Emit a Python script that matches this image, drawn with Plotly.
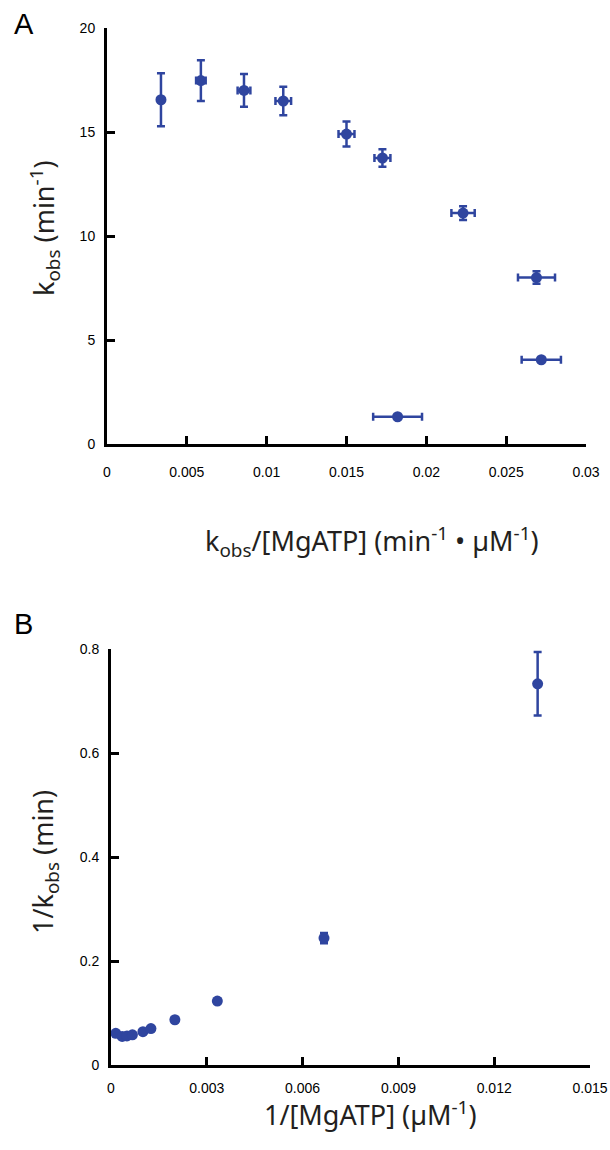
import plotly.graph_objects as go

# Panel A data: kobs vs kobs/[MgATP]
a_x = [0.00338, 0.00588, 0.00858, 0.01104, 0.0150, 0.01725, 0.0223, 0.0269, 0.0272, 0.0182]
a_y = [16.55, 17.47, 17.0, 16.49, 14.9, 13.75, 11.1, 8.0, 4.05, 1.31]
a_yerr = [1.27, 0.98, 0.79, 0.69, 0.6, 0.42, 0.33, 0.3, 0.1, 0.05]
a_xerr = [0.0001, 0.0003, 0.0004, 0.00049, 0.0005, 0.0005, 0.00073, 0.00116, 0.00123, 0.00153]

# Panel B data: 1/kobs vs 1/[MgATP]
b_x = [0.00015, 0.00035, 0.0005, 0.00067, 0.001, 0.00125, 0.002, 0.00333, 0.00667, 0.01336]
b_y = [0.061, 0.055, 0.056, 0.058, 0.064, 0.070, 0.087, 0.123, 0.244, 0.733]
b_yerr = [0.0, 0.0, 0.0, 0.0, 0.0, 0.0, 0.002, 0.004, 0.01, 0.061]

a_xticks = [0, 0.005, 0.01, 0.015, 0.02, 0.025, 0.03]
a_xlabels = ["0", "0.005", "0.01", "0.015", "0.02", "0.025", "0.03"]
a_yticks = [0, 5, 10, 15, 20]
b_xticks = [0, 0.003, 0.006, 0.009, 0.012, 0.015]
b_xlabels = ["0", "0.003", "0.006", "0.009", "0.012", "0.015"]
b_yticks = [0, 0.2, 0.4, 0.6, 0.8]
b_ylabels = ["0", "0.2", "0.4", "0.6", "0.8"]

BLUE = "#2F459F"
TICKFONT = dict(family="Liberation Sans, Arial, sans-serif", size=14, color="black")
TITLEFONT = dict(family="Noto Sans, sans-serif", size=27, color="#231F20")

fig = go.Figure()
fig.add_trace(go.Scatter(
    x=a_x, y=a_y, mode="markers",
    marker=dict(color=BLUE, size=11),
    error_y=dict(type="data", array=a_yerr, color=BLUE, thickness=2.5, width=4),
    error_x=dict(type="data", array=a_xerr, color=BLUE, thickness=2.5, width=4),
    xaxis="x", yaxis="y", showlegend=False, cliponaxis=False,
))
fig.add_trace(go.Scatter(
    x=b_x, y=b_y, mode="markers",
    marker=dict(color=BLUE, size=11),
    error_y=dict(type="data", array=b_yerr, color=BLUE, thickness=2.5, width=4),
    xaxis="x2", yaxis="y2", showlegend=False, cliponaxis=False,
))

W, H = 610, 1150
def fx(p):
    return p / W
def fy(p):
    return (H - p) / H

axis_common = dict(
    showline=True, linecolor="black", linewidth=3,
    ticks="inside", ticklen=8, tickwidth=2.5, tickcolor="black",
    showgrid=False, zeroline=False, tickfont=TICKFONT,
    automargin=False,
)

fig.update_layout(
    width=W, height=H,
    margin=dict(l=0, r=0, t=0, b=0, autoexpand=False),
    paper_bgcolor="white", plot_bgcolor="white",
    xaxis=dict(domain=[fx(107), fx(586)], range=[0, 0.03], anchor="y",
               tickvals=a_xticks, ticktext=a_xlabels, ticklabelstandoff=13, **axis_common),
    yaxis=dict(domain=[fy(444), fy(28)], range=[0, 20], anchor="x",
               tickvals=a_yticks, ticklabelstandoff=6, **axis_common),
    xaxis2=dict(domain=[fx(111), fx(590)], range=[0, 0.015], anchor="y2",
                tickvals=b_xticks, ticktext=b_xlabels, ticklabelstandoff=8, **axis_common),
    yaxis2=dict(domain=[fy(1065), fy(649)], range=[0, 0.8], anchor="x2",
                tickvals=b_yticks, ticktext=b_ylabels, ticklabelstandoff=6, **axis_common),
)

annotations = [
    dict(text="A", x=fx(12), y=fy(24), xref="paper", yref="paper",
         xanchor="left", yanchor="middle", showarrow=False,
         font=dict(family="Liberation Sans, Arial, sans-serif", size=29, color="black")),
    dict(text="B", x=fx(12), y=fy(624), xref="paper", yref="paper",
         xanchor="left", yanchor="middle", showarrow=False,
         font=dict(family="Liberation Sans, Arial, sans-serif", size=29, color="black")),
    dict(text="k<sub>obs</sub>/[MgATP] (min<sup>-1</sup> • µM<sup>-1</sup>)",
         x=fx(372), y=fy(541), xref="paper", yref="paper",
         xanchor="center", yanchor="middle", showarrow=False, font=TITLEFONT),
    dict(text="k<sub>obs</sub> (min<sup>-1</sup>)",
         x=fx(44), y=fy(228), xref="paper", yref="paper", textangle=-90,
         xanchor="center", yanchor="middle", showarrow=False, font=TITLEFONT),
    dict(text="1/[MgATP] (µM<sup>-1</sup>)",
         x=fx(370), y=fy(1113), xref="paper", yref="paper",
         xanchor="center", yanchor="middle", showarrow=False, font=TITLEFONT),
    dict(text="1/k<sub>obs</sub> (min)",
         x=fx(44), y=fy(862), xref="paper", yref="paper", textangle=-90,
         xanchor="center", yanchor="middle", showarrow=False, font=TITLEFONT),
]
fig.update_layout(annotations=annotations)

# remove the default page margin so the figure sits at the window's top-left corner
fig.write_html("out.html", config={"displayModeBar": False},
               post_script="document.body.style.margin='0';")
